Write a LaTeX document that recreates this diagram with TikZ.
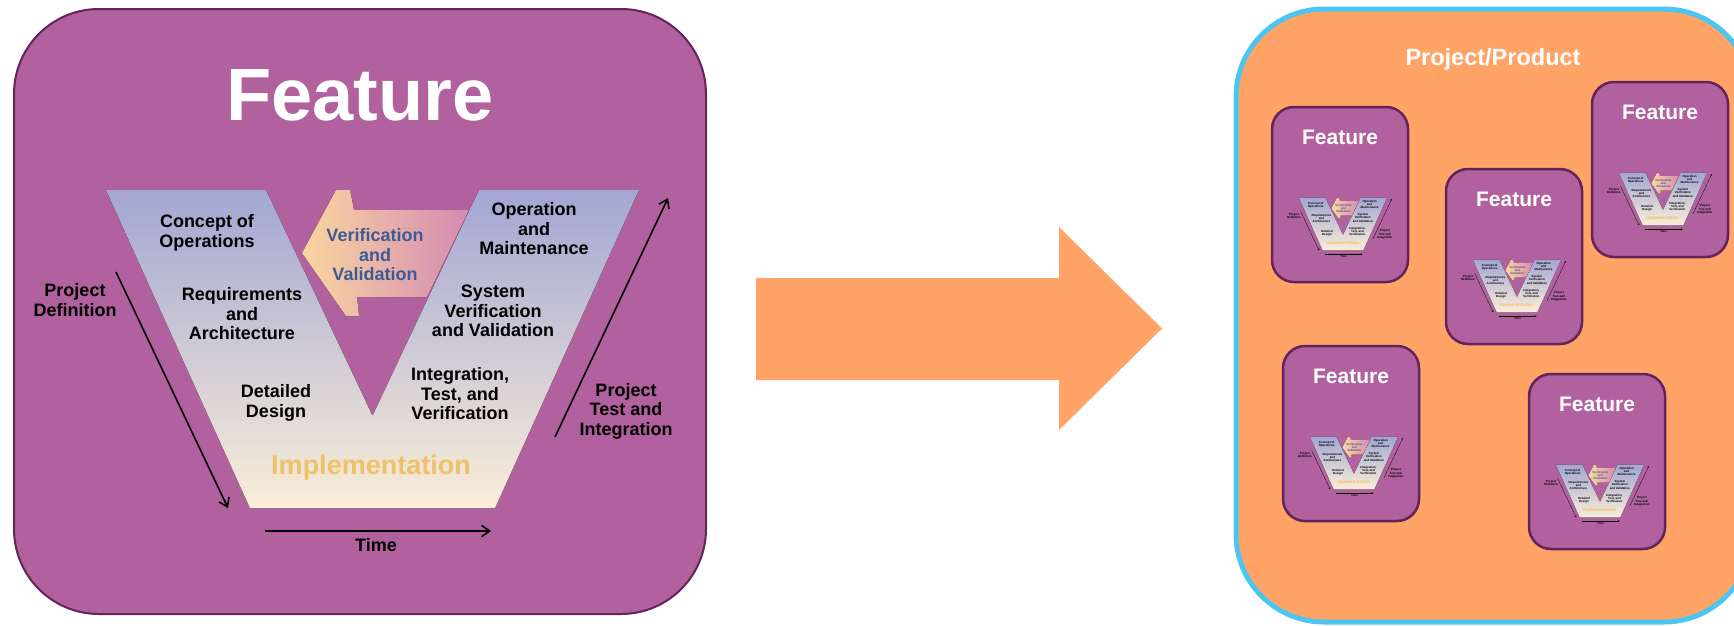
\documentclass[tikz,border=0pt]{standalone}
\usepackage{fontspec}
\setmainfont{Liberation Sans}
\usetikzlibrary{arrows.meta}
\definecolor{featfill}{RGB}{176,97,158}
\definecolor{featborder}{RGB}{100,35,90}
\definecolor{vtop}{RGB}{162,166,210}
\definecolor{vbot}{RGB}{250,238,216}
\definecolor{vvleft}{RGB}{250,214,160}
\definecolor{vvright}{RGB}{212,138,178}
\definecolor{vvtext}{RGB}{60,90,150}
\definecolor{impl}{RGB}{240,194,104}
\definecolor{orangefill}{RGB}{255,164,102}
\definecolor{skyborder}{RGB}{76,198,240}
\tikzset{
  arrlw/.store in=\arrlw, arrlw=1.6pt,
  vlabel/.style={font=\fontsize{18}{19.5}\selectfont\bfseries, align=center, inner sep=0pt, text=black},
  blackarrow/.style={line width=\arrlw, -{Straight Barb[length=0pt 5, width=0pt 7]}},
  minibox/.style={draw=featborder, fill=featfill, line width=2.5pt, rounded corners=22pt,
    minimum width=136pt, minimum height=175pt, inner sep=0pt},
  minititle/.style={font=\fontsize{21}{24}\selectfont\bfseries, text=white, inner sep=0pt},
  vdiag/.pic={
    \fill[top color=vtop, bottom color=vbot]
      (106,190) -- (266,190) -- (372.5,416) -- (479,190) -- (639,190) -- (495,508) -- (250,508) -- cycle;
    \fill[left color=vvleft, right color=vvright]
      (302,253) -- (336,190) -- (350,190) -- (354,210) -- (469,210) -- (427,297)
      -- (357,297) -- (359,316) -- (346,316) -- cycle;
    \node[vlabel, text=vvtext] (-vv) at (375,255) {Verification\\and\\Validation};
    \node[vlabel] (-cop) at (207,233) {Concept of\\Operations};
    \node[vlabel] (-req) at (242,314) {Requirements\\and\\Architecture};
    \node[vlabel] (-det) at (276,403) {Detailed\\Design};
    \node[vlabel] (-om) at (534,229) {Operation\\and\\Maintenance};
    \node[vlabel] (-svv) at (493,311) {System\\Verification\\and Validation};
    \node[vlabel] (-itv) at (460,394) {Integration,\\Test, and\\Verification};
    \node[font=\fontsize{27}{30}\selectfont\bfseries, text=impl, inner sep=0pt] (-impl) at (371,468) {Implementation};
    \node[vlabel] (-pdef) at (75,300) {Project\\Definition};
    \node[vlabel] (-pti) at (626,411) {Project\\Test and\\Integration};
    \node[vlabel] (-time) at (376,545) {Time};
    \coordinate (-pd1) at (116,272);
    \coordinate (-pd2) at (228,508);
    \coordinate (-pt1) at (555,437);
    \coordinate (-pt2) at (668,198);
    \coordinate (-t1) at (265,531);
    \coordinate (-t2) at (491,531);
    \draw[blackarrow] (-pd1) -- (-pd2);
    \draw[blackarrow] (-pt1) -- (-pt2);
    \draw[blackarrow] (-t1) -- (-t2);
  },
  minifeature/.pic={
    \node[minibox] (-box) at (68,87.5) {};
    \node[minititle] (-title) at (68,30) {Feature};
    \pic[shift={(9.5,59.5)}, scale=0.165, transform shape, arrlw=0.27pt] (-v) {vdiag};
  }
}
\begin{document}
\begin{tikzpicture}[x=1pt, y=-1pt]
\useasboundingbox (0,0) rectangle (1734,625);
\fill[white] (0,0) rectangle (1734,625);
\clip (0,0) rectangle (1734,625);
% left big feature box
\node[draw=featborder, fill=featfill, line width=2pt, rounded corners=85pt,
  minimum width=692pt, minimum height=605pt, inner sep=0pt] (featbox) at (360,311.5) {};
\node[font=\fontsize{74}{80}\selectfont\bfseries, text=white, inner sep=0pt] (feattitle) at (360,95) {Feature};
\pic (big) at (0,0) {vdiag};
% big orange arrow
\fill[orangefill] (756,278) -- (1059,278) -- (1059,227) -- (1162,328.5) -- (1059,430) -- (1059,380) -- (756,380) -- cycle;
% right project box
\node[draw=skyborder, fill=orangefill, line width=5pt, rounded corners=88pt,
  minimum width=516pt, minimum height=613pt, inner sep=0pt] (projbox) at (1494,315.5) {};
\node[font=\fontsize{23.5}{27}\selectfont\bfseries, text=white, inner sep=0pt] (projtitle) at (1493,59) {Project/Product};
\pic (fA) at (1272,107) {minifeature};
\pic (fB) at (1446,169) {minifeature};
\pic (fC) at (1592,82) {minifeature};
\pic (fD) at (1283,346) {minifeature};
\pic (fE) at (1529,374) {minifeature};
\end{tikzpicture}
\end{document}
